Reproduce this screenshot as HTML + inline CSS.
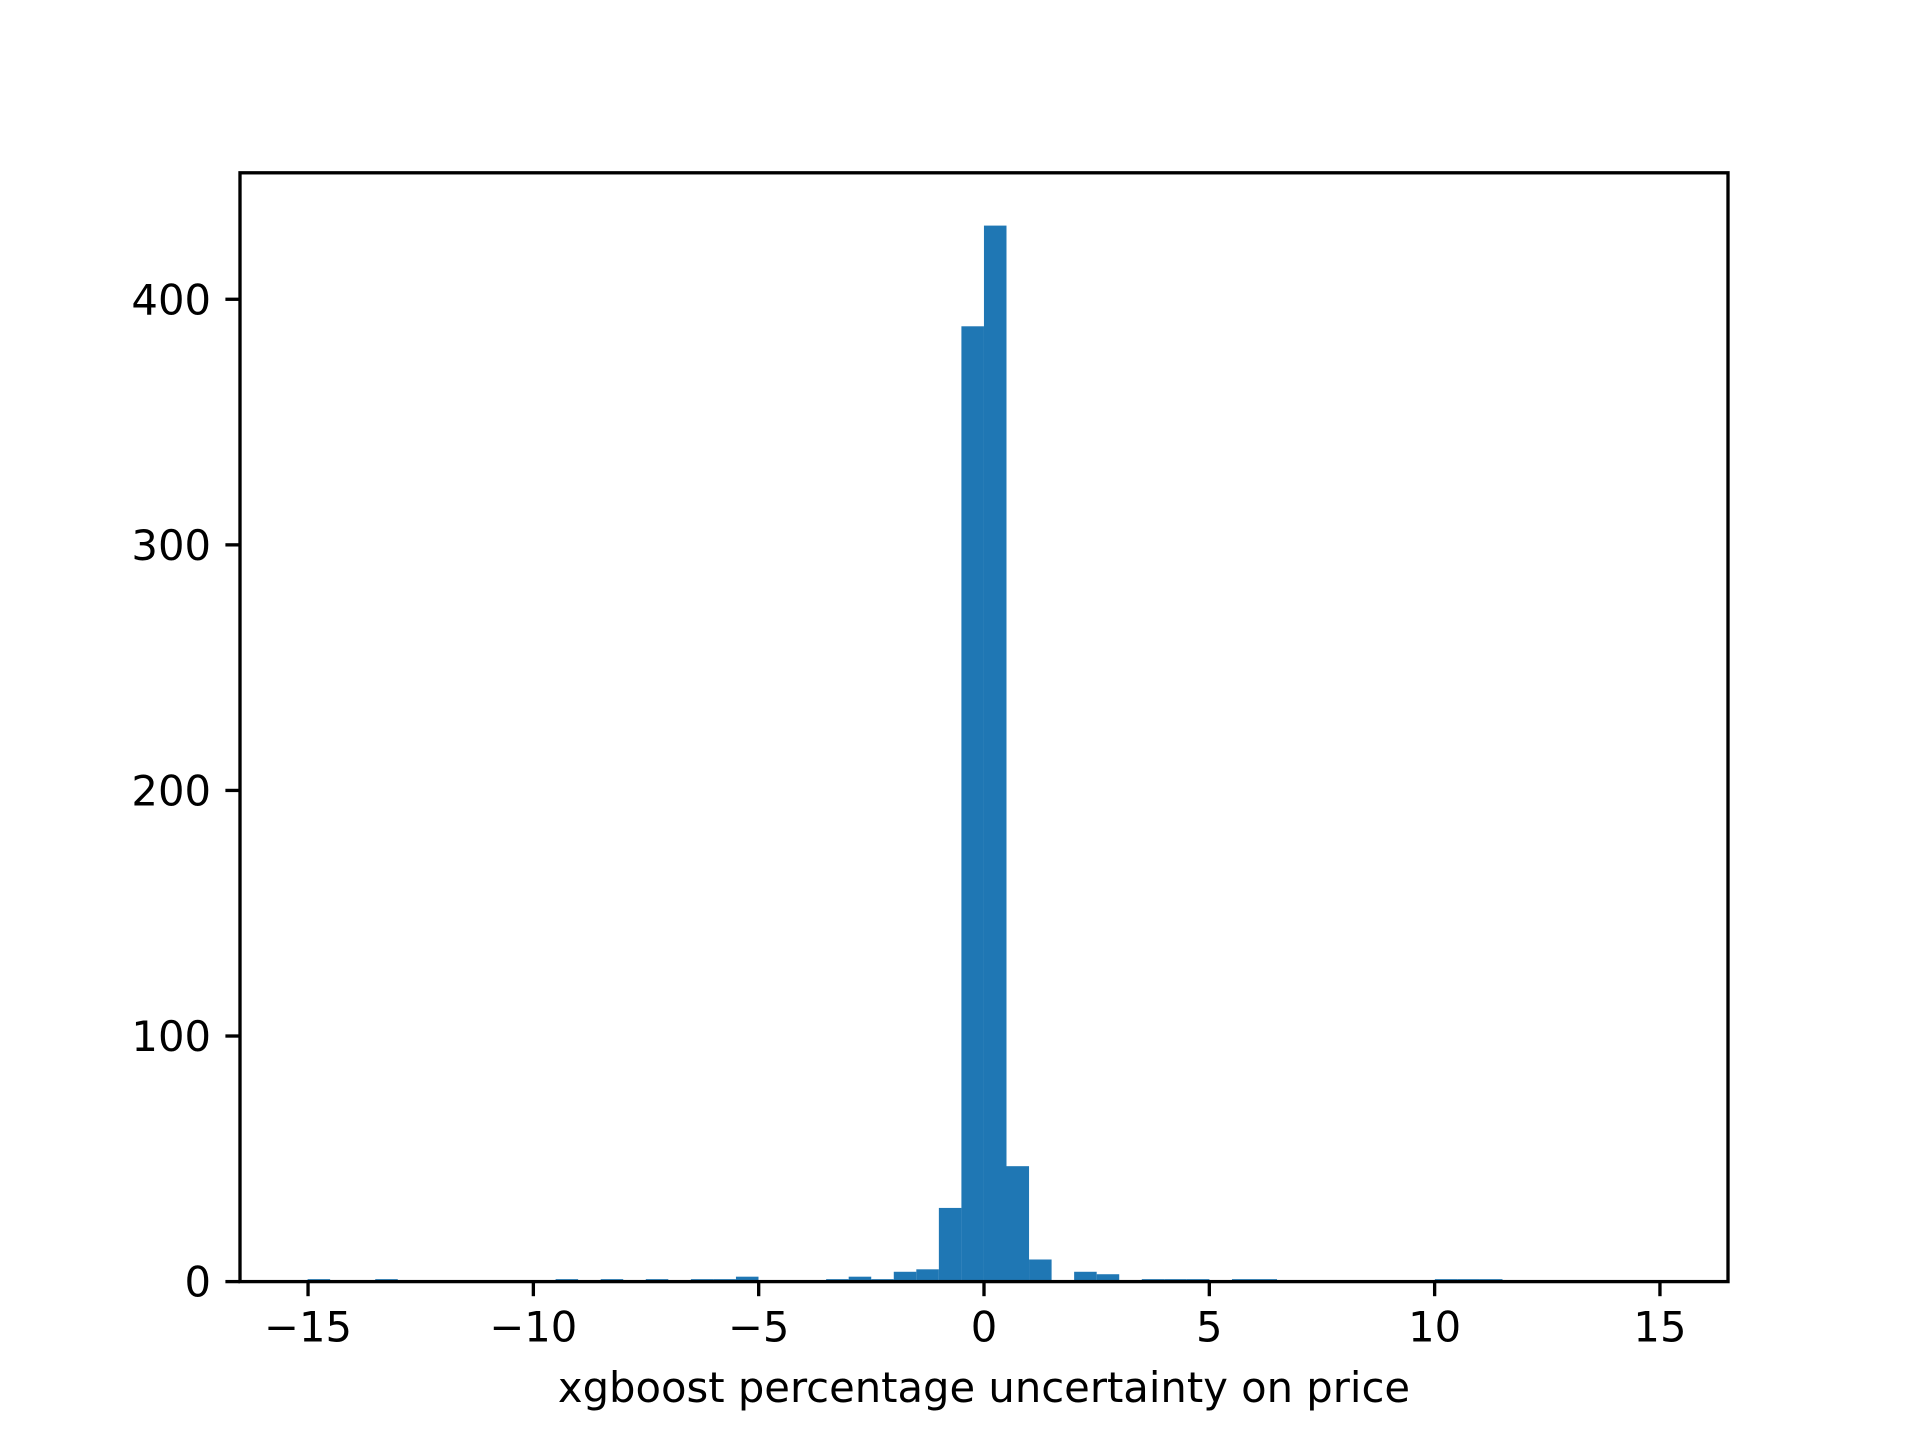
<!DOCTYPE html>
<html><head><meta charset="utf-8"><style>
html,body{margin:0;padding:0;background:#fff;}
svg{display:block;}
text{font-family:"DejaVu Sans","Liberation Sans",sans-serif;font-size:41.7px;fill:#000;}
</style></head><body>
<svg id="chart" width="1920" height="1440" viewBox="0 0 1920 1440" xmlns="http://www.w3.org/2000/svg">
<rect width="1920" height="1440" fill="#fff"/>
<g id="bars"></g>
<g id="xticks"></g>
<g id="yticks"></g>
<rect x="240" y="172.8" width="1488" height="1108.8" fill="none" stroke="#000" stroke-width="3.33"/>
<text x="984" y="1402" text-anchor="middle">xgboost percentage uncertainty on price</text>
</svg>
<script>
const binStart = -15.01;
const binWidth = 0.5003;
const binCounts = [1,0,0,1,0,0,0,0,0,0,0,1,0,1,0,1,0,1,1,2,0,0,0,1,2,1,4,5,30,389,430,47,9,0,4,3,0,1,1,1,0,1,1,0,0,0,0,0,0,0,1,1,1,0,0,0,0,0,0,0];
const xTicks = [-15,-10,-5,0,5,10,15];
const xTickLabels = ["\u221215","\u221210","\u22125","0","5","10","15"];
const yTicks = [0,100,200,300,400];
const yTickLabels = ["0","100","200","300","400"];

const NS="http://www.w3.org/2000/svg";
const L=240,R=1728,T=172.8,B=1281.6;
const xmin=-16.51,xmax=16.51,ymin=0,ymax=451.5;
const xs=v=>L+(v-xmin)/(xmax-xmin)*(R-L);
const ys=v=>B-(v-ymin)/(ymax-ymin)*(B-T);
function mk(tag,attrs){const e=document.createElementNS(NS,tag);for(const k in attrs)e.setAttribute(k,attrs[k]);return e;}
const gb=document.getElementById('bars');
binCounts.forEach((c,i)=>{
  if(c<=0)return;
  const x0=xs(binStart+i*binWidth),x1=xs(binStart+(i+1)*binWidth);
  const r=mk('rect',{x:x0,y:ys(c),width:x1-x0,height:ys(0)-ys(c),fill:'#1f77b4'});
  
  
  gb.appendChild(r);
});
const gx=document.getElementById('xticks');
xTicks.forEach((v,i)=>{
  const x=xs(v);
  const l=mk('line',{x1:x,x2:x,y1:B,y2:B+14.6,stroke:'#000','stroke-width':3.33});
  
  
  gx.appendChild(l);
  const t=mk('text',{x:x,y:B+60,'text-anchor':'middle'});
  
  
  t.textContent=xTickLabels[i];gx.appendChild(t);
});
const gy=document.getElementById('yticks');
yTicks.forEach((v,i)=>{
  const y=ys(v);
  const l=mk('line',{x1:L-14.6,x2:L,y1:y,y2:y,stroke:'#000','stroke-width':3.33});
  
  
  gy.appendChild(l);
  const t=mk('text',{x:L-29,y:y+15,'text-anchor':'end'});
  
  
  t.textContent=yTickLabels[i];gy.appendChild(t);
});
</script>
</body></html>
